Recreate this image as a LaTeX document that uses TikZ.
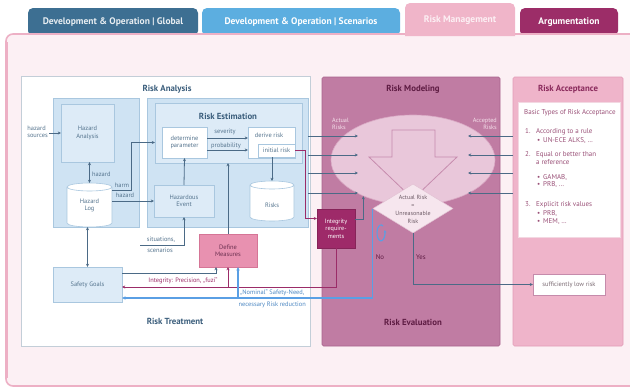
\documentclass[tikz,border=0pt]{standalone}
\usepackage{fontspec}
\setmainfont{PT Sans}
\usetikzlibrary{arrows.meta,shapes.geometric,calc}

\definecolor{tabA}{HTML}{3D6F92}
\definecolor{tabB}{HTML}{5CAEE0}
\definecolor{tabC}{HTML}{F0B5C9}
\definecolor{tabD}{HTML}{9C2D68}
\definecolor{panelbg}{HTML}{FCF0F4}
\definecolor{panelrim}{HTML}{EDB0C5}
\definecolor{rimgray}{HTML}{C3CED8}
\definecolor{frameblue}{HTML}{CFE3F3}
\definecolor{boxblue}{HTML}{DDEBF7}
\definecolor{rimblue}{HTML}{A9C7DF}
\definecolor{linegray}{HTML}{4B6A86}
\definecolor{txtblue}{HTML}{55748E}
\definecolor{ttlblue}{HTML}{3B5E7C}
\definecolor{mauve}{HTML}{C07CA3}
\definecolor{mauverim}{HTML}{A9648D}
\definecolor{ellfill}{HTML}{E9C7DA}
\definecolor{ellrim}{HTML}{D9A9C4}
\definecolor{arrowrim}{HTML}{C68BAD}
\definecolor{diafill}{HTML}{F6E6EE}
\definecolor{diarim}{HTML}{E2C2D3}
\definecolor{diatext}{HTML}{6E5C67}
\definecolor{accfill}{HTML}{EFB4CA}
\definecolor{accrim}{HTML}{E29DB7}
\definecolor{accttl}{HTML}{8A2A5C}
\definecolor{acctext}{HTML}{9A5077}
\definecolor{magline}{HTML}{9B2C68}
\definecolor{magbox}{HTML}{9E2A69}
\definecolor{blueline}{HTML}{5A9FE4}
\definecolor{measfill}{HTML}{E891B0}
\definecolor{measrim}{HTML}{D57596}
\definecolor{meastext}{HTML}{6B3050}
\definecolor{ttlmag}{HTML}{5E1C43}
\definecolor{lightpink}{HTML}{F5E0EB}
\definecolor{slrim}{HTML}{C58BAB}
\definecolor{slrtext}{HTML}{7A6A72}

\tikzset{
  bxbase/.style={inner sep=0pt, outer sep=0pt, align=center},
  lbl/.style={inner sep=0pt, text=txtblue, align=center, font=\fontsize{6.4}{7.4}\selectfont},
  bluebox/.style={bxbase, lbl, draw=rimblue, fill=boxblue, line width=0.6pt},
  whitebox/.style={bxbase, lbl, draw=rimblue, fill=white, line width=0.6pt},
  ttl/.style={inner sep=0pt, font=\bfseries\fontsize{8.8}{10}\selectfont},
  tabnode/.style={rounded corners=5pt, minimum height=28pt, inner sep=0pt,
    font=\bfseries\fontsize{9.5}{11}\selectfont},
  acctxt/.style={inner sep=0pt, text=acctext, font=\fontsize{7}{8}\selectfont,
    text height=5pt, text depth=1.5pt},
  conn/.style={draw=linegray, line width=0.8pt, -{Stealth[length=3.2pt,width=3pt]}},
  dconn/.style={draw=linegray, line width=0.8pt,
    {Stealth[length=3.2pt,width=3pt]}-{Stealth[length=3.2pt,width=3pt]}},
  magconn/.style={draw=magline, line width=0.9pt, -{Stealth[length=3.2pt,width=3pt]}},
  blueconn/.style={draw=blueline, line width=1.3pt, -{Stealth[length=3.6pt,width=3.4pt]}},
  cylstyle/.style={draw=rimblue, fill=white, line width=0.6pt},
}

% database cylinder drawn inside the bounding box of a node
\newcommand{\cylof}[1]{%
  \draw[cylstyle] let \p1=(#1.north west), \p2=(#1.south east), \n1={(\x2-\x1)/2} in
    (\x1,\y1-4pt) -- (\x1,\y2+4pt)
    arc[start angle=180, end angle=360, x radius=\n1, y radius=4pt]
    -- (\x2,\y1-4pt)
    arc[start angle=0, end angle=180, x radius=\n1, y radius=4pt] -- cycle
    (\x1,\y1-4pt) arc[start angle=180, end angle=360, x radius=\n1, y radius=4pt];}

\begin{document}
\begin{tikzpicture}[x=1pt,y=-1pt]
\useasboundingbox (0,0) rectangle (630,388);
\clip (0,0) rectangle (630,388);
\fill[white] (0,0) rectangle (630,388);

% ---- tabs ----
\node[tabnode, fill=tabA, minimum width=170pt, text=white!88!tabA] (tglobal) at (113,22) {Development \& Operation | Global};
\node[tabnode, fill=tabB, minimum width=198pt, text=white] (tscen) at (301,22) {Development \& Operation | Scenarios};
\node[tabnode, fill=tabD, minimum width=98pt, text=white] (targ) at (569,22) {Argumentation};

% ---- page panel ----
\path[draw=panelrim, fill=panelbg, line width=1.6pt, rounded corners=7pt] (6,34) rectangle (660,386);
\draw[panelrim, line width=1.4pt] (6.8,42) -- (6.8,378);
\fill[tabC] (405,36) {[rounded corners=5pt] -- (405,3) -- (515,3)} -- (515,36) -- cycle;
\node[inner sep=0pt, font=\bfseries\fontsize{9.5}{11}\selectfont, text=white!80!tabC] (trisk) at (460,20) {Risk Management};

% ---- risk analysis / treatment ----
\node[bxbase, draw=rimgray, fill=white, line width=0.7pt, minimum width=289pt, minimum height=270pt] (riskan) at (165.5,211) {};
\node[ttl, text=ttlblue] (tan) at (167,89) {Risk Analysis};
\node[bxbase, draw=rimblue, fill=frameblue, line width=0.5pt, minimum width=86pt, minimum height=129pt] (hzframe) at (96,162.5) {};
\node[bluebox, minimum width=53pt, minimum height=58pt] (hzan) at (87.5,133) {Hazard\\Analysis};
\node[bxbase, minimum width=45pt, minimum height=44pt] (hlog) at (89.5,205) {};
\cylof{hlog}
\node[lbl] (hlogt) at (89.5,205.5) {Hazard\\Log};

\node[bxbase, draw=rimblue, fill=frameblue, line width=0.5pt, minimum width=161pt, minimum height=129pt] (reframe) at (227.5,162.5) {};
\node[bxbase, draw=rimblue, fill=boxblue, line width=0.5pt, minimum width=147pt, minimum height=60pt] (riskest) at (228.5,133) {};
\node[ttl, text=ttlblue] (tre) at (228,116) {Risk Estimation};
\node[whitebox, minimum width=45pt, minimum height=31pt] (dp) at (184.5,142.5) {determine\\parameter};
\node[whitebox, minimum width=47pt, minimum height=31pt] (dr) at (271.5,142.5) {};
\node[lbl] (drt) at (269,135) {derive risk};
\node[whitebox, minimum width=37pt, minimum height=13pt] (ir) at (276.5,150.5) {initial risk};
\node[bluebox, minimum width=60pt, minimum height=32pt] (hev) at (184,201) {Hazardous\\Event};
\node[bxbase, minimum width=44pt, minimum height=40pt] (risks) at (272,201) {};
\cylof{risks}
\node[lbl] (riskst) at (272,205) {Risks};
\node[bluebox, minimum width=69pt, minimum height=35pt] (sg) at (87.5,284.5) {Safety Goals};
\node[bxbase, draw=measrim, fill=measfill, line width=0.6pt, minimum width=58pt, minimum height=33pt,
      text=meastext, font=\fontsize{6.4}{7.4}\selectfont] (dm) at (228,250.5) {Define\\Measures};
\node[ttl, text=ttlblue] (ttr) at (175,321) {Risk Treatment};

% ---- risk modeling / evaluation ----
\node[bxbase, draw=mauverim, fill=mauve, line width=0.6pt, rounded corners=1.5pt, minimum width=178pt, minimum height=269pt] (rm) at (411,211.5) {};
\node[ttl, text=ttlmag] (trm) at (413,89) {Risk Modeling};
\node[ellipse, draw=ellrim, fill=ellfill, line width=0.6pt, minimum width=164pt, minimum height=90pt, inner sep=0pt] (ell) at (413,160) {};
\draw[arrowrim, line width=0.8pt] (392,130) -- (435,130) -- (435,157) -- (457,157) -- (413,199) -- (369,157) -- (392,157) -- cycle;
\node[lbl, text=lightpink, align=left, anchor=west, font=\fontsize{6.2}{7.2}\selectfont] (tact) at (332,123.5) {Actual\\Risks};
\node[lbl, text=lightpink, align=right, anchor=east, font=\fontsize{6.2}{7.2}\selectfont] (tacc) at (497,123.5) {Accepted\\Risks};
\node[diamond, draw=diarim, fill=diafill, line width=0.5pt, minimum width=80pt, minimum height=49pt, inner sep=0pt] (dia) at (413,208.5) {};
\node[lbl, text=diatext, font=\fontsize{6}{8.2}\selectfont] (diat) at (413,209.5) {Actual Risk\\=\\Unreasonable\\Risk};
\node[bxbase, fill=magbox, draw=magbox!85!black, line width=0.5pt, minimum width=38pt, minimum height=39pt,
      text=white, font=\fontsize{6.2}{7.6}\selectfont] (intg) at (336,228.5) {Integrity\\require-\\ments};
\node[ttl, text=ttlmag] (tev) at (413,322) {Risk Evaluation};
\node[lbl, text=ttlmag, font=\fontsize{6.8}{8}\selectfont] (tno) at (380,257) {No};
\node[lbl, text=ttlmag, font=\fontsize{6.8}{8}\selectfont] (tyes) at (421,257) {Yes};

% ---- risk acceptance ----
\node[bxbase, draw=accrim, fill=accfill, line width=0.6pt, rounded corners=1.5pt, minimum width=110pt, minimum height=269pt] (ra) at (568,211.5) {};
\node[ttl, text=accttl] (tra) at (568,89) {Risk Acceptance};
\node[bxbase, fill=white, draw=accrim!40!white, line width=0.5pt, minimum width=102pt, minimum height=135pt] (rain) at (569,169.5) {};
\foreach \tx/\xx/\yy [count=\i] in {
  {Basic Types of Risk Acceptance}/524/113,
  1./525/132, {According to a rule}/536/132,
  •/537/141, {UN-ECE ALKS, …}/543/141,
  2./525/155, {Equal or better than}/536/155,
  {a reference}/536/163,
  •/537/178, {GAMAB,}/543/178,
  •/537/185, {PRB, …}/543/185,
  3./525/205, {Explicit risk values}/536/205,
  •/537/214, {PRB,}/543/214,
  •/537/222, {MEM, …}/543/222}
  \node[acctxt, anchor=west] (acc\i) at (\xx,\yy) {\tx};
\node[bxbase, fill=white, draw=slrim, line width=0.6pt, minimum width=72pt, minimum height=21pt,
      text=slrtext, font=\fontsize{6.4}{7.4}\selectfont] (slr) at (569,284.5) {sufficiently low risk};

% ---- connectors: analysis ----
\coordinate (hsrc) at (49,133);
\node[lbl, align=left, anchor=east] (hsrct) at (48,132) {hazard\\sources};
\draw[conn] (hsrc) -- (hzan.west);
\draw[dconn] (hzan.south -| hlog.north) -- (hlog.north);
\node[lbl, anchor=west] (thz1) at (92,174) {hazard};
\draw[conn] ([yshift=15pt]hlog.east) -- ++(19,0) |- (dp.west -| riskest.west);
\node[lbl] (tharm) at (122,185) {harm};
\draw[conn] (hlog.east |- hev.west) -- (hev.west);
\node[lbl] (thz2) at (125,195.5) {hazard};
\draw[conn] (hev.north) -- (dp.south);
\draw[conn] ([yshift=4.5pt]dp.east) -- ([yshift=4.5pt]dp.east -| dr.west);
\node[lbl] (tsev) at (225,132) {severity};
\draw[conn] ([yshift=-7.5pt]dp.east) -- ([yshift=-7.5pt]dp.east -| dr.west);
\node[lbl] (tprob) at (226,145.5) {probability};
\draw[conn] (risks.north |- ir.south) -- (risks.north);
\draw[conn] (dm.north) -- (dm.north |- riskest.south);
\coordinate (sit) at (140,245);
\draw[conn] (sit) -| (hev.south);
\node[lbl] (tsit) at (161,240) {situations,};
\node[lbl] (tscn) at (160,250.5) {scenarios};
\draw[dconn] (hlog.south -| sg.north) -- (sg.north);

% ---- connectors: treatment ----
\draw[conn] ([yshift=11.5pt]sg.east) -| ([xshift=-12pt]dm.south);
\coordinate (ylmag) at ([yshift=-2.5pt]sg.east);
\coordinate (ylblue) at ([yshift=-13.5pt]sg.east);
\draw[magconn] (intg.south) |- (ylmag);
\draw[magconn] (ylmag -| dm.south) -- (dm.south);
\node[lbl, text=magline] (tint) at (183,281) {Integrity: Precision, „fuzi“};
\draw[blueconn] (dia.west) |- (ylblue);
\coordinate (dmb) at ([xshift=10pt]dm.south);
\draw[blueconn] (dmb |- ylblue) -- (dmb);
\node[lbl, text=blueline!85!black, anchor=west] (tnom) at (240,292.5) {„Nominal“ Safety-Need,};
\node[lbl, text=blueline!85!black, anchor=west] (tnec) at (238.5,305) {necessary Risk reduction};

% ---- connectors: modeling ----
\draw[magconn] (ir.east) -- ++(10,0) |- ([yshift=10pt]intg.west);
\draw[conn] ([yshift=9.5pt]intg.east) -| (ell.216);
\foreach \yy [count=\i] in {136,155,173,193} {
  \coordinate (ain\i) at (358,\yy);
  \coordinate (bin\i) at (468,\yy);
  \draw[conn] (reframe.east |- ain\i) -- (ain\i);
  \draw[conn] (ra.west |- bin\i) -- (bin\i);
}
\draw[conn] (dia.south) |- (slr.west);
% loop mark next to the "No" branch
\draw[blueline, line width=1.1pt, -{Stealth[length=2.4pt,width=2.6pt]}]
  (383,226) arc[start angle=60, end angle=380, x radius=4pt, y radius=8pt];
\end{tikzpicture}
\end{document}
